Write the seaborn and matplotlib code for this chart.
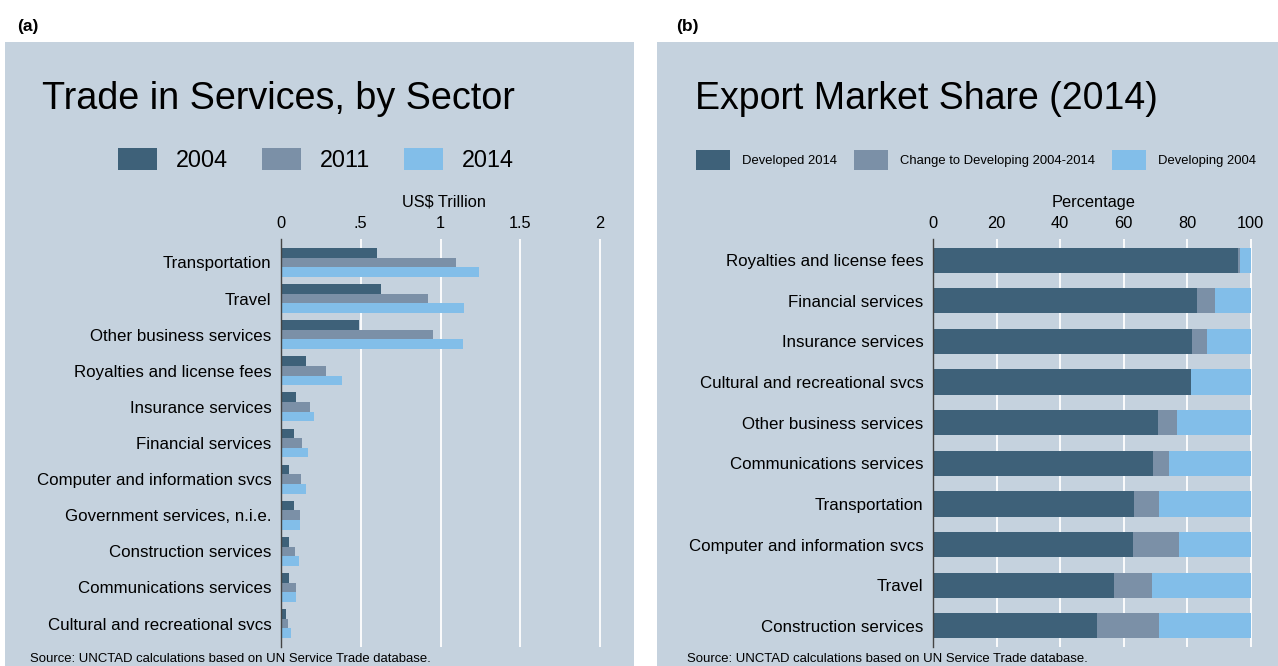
import numpy as np
import pandas as pd
import matplotlib
matplotlib.use("Agg")
import matplotlib.pyplot as plt
import seaborn as sns
from matplotlib.patches import Patch, Rectangle

# ---------------- data ----------------
sectors_a = ["Transportation", "Travel", "Other business services",
             "Royalties and license fees", "Insurance services", "Financial services",
             "Computer and information svcs", "Government services, n.i.e.",
             "Construction services", "Communications services",
             "Cultural and recreational svcs"]
years = ["2004", "2011", "2014"]
val_2004 = [0.60, 0.63, 0.49, 0.155, 0.093, 0.083, 0.053, 0.083, 0.048, 0.053, 0.030]
val_2011 = [1.10, 0.92, 0.95, 0.285, 0.183, 0.134, 0.124, 0.119, 0.088, 0.096, 0.042]
val_2014 = [1.24, 1.15, 1.14, 0.385, 0.204, 0.168, 0.155, 0.119, 0.111, 0.093, 0.065]
ticks_a = [0, 0.5, 1, 1.5, 2]
ticklabels_a = ["0", ".5", "1", "1.5", "2"]

sectors_b = ["Royalties and license fees", "Financial services", "Insurance services",
             "Cultural and recreational svcs", "Other business services",
             "Communications services", "Transportation",
             "Computer and information svcs", "Travel", "Construction services"]
developed_2014 = [96.0, 83.1, 81.5, 81.2, 70.8, 69.1, 63.3, 62.8, 57.1, 51.6]
change_dev = [0.6, 5.6, 4.6, 0.1, 6.1, 5.3, 7.8, 14.6, 11.7, 19.5]
developing_2004 = [3.4, 11.3, 13.9, 18.7, 23.1, 25.6, 28.9, 22.6, 31.2, 28.9]
series_b = ["Developed 2014", "Change to Developing 2004-2014", "Developing 2004"]
ticks_b = [0, 20, 40, 60, 80, 100]

# ---------------- style ----------------
DARK = "#3E6179"
MID = "#7B90A7"
LIGHT = "#82BEE9"
BG = "#C5D2DE"
TXT = "#000000"

sns.set_style("white")
plt.rcParams["font.family"] = ["Liberation Sans", "DejaVu Sans"]
plt.rcParams["text.color"] = TXT

W, H = 1278, 666
fig = plt.figure(figsize=(W / 100, H / 100), dpi=100, facecolor="white")

def fx(x):
    return x / W

def fy(y):
    return 1 - y / H

# panel backgrounds
fig.patches.append(Rectangle((fx(5), 0), fx(634 - 5), fy(42), transform=fig.transFigure,
                             facecolor=BG, edgecolor="none", zorder=-10))
fig.patches.append(Rectangle((fx(657), 0), fx(W - 657), fy(42), transform=fig.transFigure,
                             facecolor=BG, edgecolor="none", zorder=-10))

# ---------------- panel (a) ----------------
df_a = pd.DataFrame({
    "sector": np.repeat(sectors_a, 3),
    "year": years * len(sectors_a),
    "value": np.ravel(np.column_stack([val_2004, val_2011, val_2014])),
})

ax1 = fig.add_axes([fx(281), fy(647), fx(608 - 281), (647 - 239) / H])
ax1.set_facecolor(BG)
sns.barplot(data=df_a, y="sector", x="value", hue="year", order=sectors_a,
            hue_order=years, palette=[DARK, MID, LIGHT], orient="h", width=0.8,
            saturation=1, linewidth=0, legend=False, ax=ax1)
ax1.set_xlim(0, 2.05)
ax1.set_ylim(10.65, -0.65)
ax1.set_xticks(ticks_a)
ax1.set_xticklabels(ticklabels_a)

# ---------------- panel (b) ----------------
df_b = pd.DataFrame({
    "sector": sectors_b,
    "dev": developed_2014,
    "devchg": np.array(developed_2014) + np.array(change_dev),
    "total": np.array(developed_2014) + np.array(change_dev) + np.array(developing_2004),
})

ax2 = fig.add_axes([fx(933), fy(647), fx(1254 - 933), (647 - 239) / H])
ax2.set_facecolor(BG)
sns.barplot(data=df_b, y="sector", x="total", order=sectors_b, color=LIGHT,
            orient="h", width=0.62, saturation=1, linewidth=0, ax=ax2)
sns.barplot(data=df_b, y="sector", x="devchg", order=sectors_b, color=MID,
            orient="h", width=0.62, saturation=1, linewidth=0, ax=ax2)
sns.barplot(data=df_b, y="sector", x="dev", order=sectors_b, color=DARK,
            orient="h", width=0.62, saturation=1, linewidth=0, ax=ax2)
ax2.set_xlim(0, 101)
ax2.set_ylim(9.52, -0.52)
ax2.set_xticks(ticks_b)

# ---------------- common axes styling ----------------
for ax, xl in [(ax1, "US$ Trillion"), (ax2, "Percentage")]:
    ax.xaxis.tick_top()
    ax.xaxis.set_label_position("top")
    ax.set_xlabel(xl, fontsize=11.8, labelpad=6.5, color=TXT)
    ax.set_ylabel("")
    ax.tick_params(axis="x", length=0, pad=6, labelsize=11.8, colors=TXT)
    ax.tick_params(axis="y", length=0, pad=7, labelsize=12.2, colors=TXT)
    ax.grid(False)
    ax.xaxis.grid(True, color="white", linewidth=1.3)
    ax.set_axisbelow(True)
    for s in ["top", "right", "bottom"]:
        ax.spines[s].set_visible(False)
    ax.spines["left"].set_color("#444444")
    ax.spines["left"].set_linewidth(1.0)
    ax.spines["left"].set_zorder(5)
for ax in (ax1, ax2):
    ax.xaxis.get_gridlines()[0].set_visible(False)

# ---------------- titles, labels ----------------
fig.text(fx(17), fy(31), "(a)", fontsize=12.5, fontweight="bold", va="baseline")
fig.text(fx(676), fy(31), "(b)", fontsize=12.5, fontweight="bold", va="baseline")
fig.text(fx(42), fy(109), "Trade in Services, by Sector", fontsize=27.2, va="baseline")
fig.text(fx(695), fy(109), "Export Market Share (2014)", fontsize=27.0, va="baseline")

fig.text(fx(30), fy(662), "Source: UNCTAD calculations based on UN Service Trade database.",
         fontsize=9.45, va="baseline")
fig.text(fx(687), fy(662), "Source: UNCTAD calculations based on UN Service Trade database.",
         fontsize=9.45, va="baseline")

# ---------------- legends ----------------
h_a = [Patch(facecolor=c, edgecolor="none") for c in (DARK, MID, LIGHT)]
fig.legend(h_a, years, loc="center left", bbox_to_anchor=(fx(118), fy(160)),
           ncol=3, frameon=False, fontsize=16.8, handlelength=1.67, handleheight=1.07,
           handletextpad=0.82, columnspacing=1.45, borderpad=0, borderaxespad=0)

h_b = [Patch(facecolor=c, edgecolor="none") for c in (DARK, MID, LIGHT)]
fig.legend(h_b, series_b, loc="center left", bbox_to_anchor=(fx(696), fy(160)),
           ncol=3, frameon=False, fontsize=9.4, handlelength=2.6, handleheight=1.9,
           handletextpad=0.92, columnspacing=1.3, borderpad=0, borderaxespad=0)

fig.savefig("out.png", dpi=100, facecolor="white")
